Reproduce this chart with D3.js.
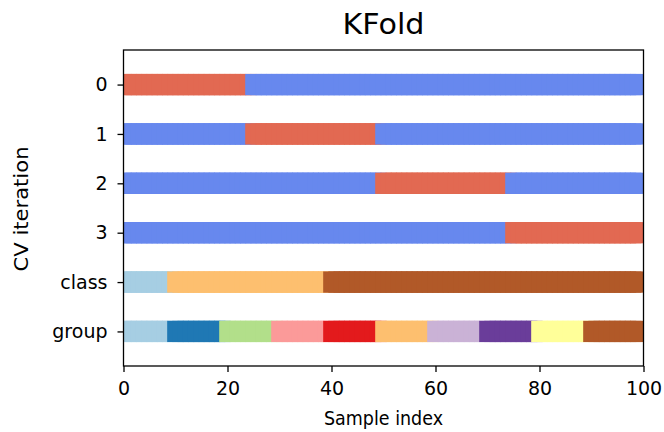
<!DOCTYPE html>
<html><head><meta charset="utf-8">
<script src="https://cdn.jsdelivr.net/npm/d3@7"></script>
<style>body{margin:0;background:#fff}svg{display:block}text{font-family:"DejaVu Sans",sans-serif;fill:#000}</style>
</head><body>
<script>
const title = "KFold";
const nSamples = 100;
const foldTestStart = [0, 25, 50, 75];
const foldTestEnd = [25, 50, 75, 100];
const classSizes = [10, 30, 60];
const groupSizes = [10, 10, 10, 10, 10, 10, 10, 10, 10, 10];
const yTickLabels = ["0", "1", "2", "3", "class", "group"];
const xTicks = [0, 20, 40, 60, 80, 100];
const cvColors = ["#6788ee", "#e26952"]; // train, test
const classColors = ["#a6cee3", "#fdbf6f", "#b15928"];
const groupColors = ["#a6cee3", "#1f78b4", "#b2df8a", "#fb9a99", "#e31a1c", "#fdbf6f", "#cab2d6", "#6a3d9a", "#ffff99", "#b15928"];

const W = 664, H = 432;
const m = {left: 123.5, right: 643.5, top: 50, bottom: 366};
const svg = d3.select("body").append("svg").attr("width", W).attr("height", H);

const x = d3.scaleLinear().domain([0, 100]).range([m.left, m.right]);
const y = d3.scaleLinear().domain([-0.2, yTickLabels.length + 0.2]).range([m.top, m.bottom]);

const rows = [];
foldTestStart.forEach((s, k) => {
  const vals = d3.range(nSamples).map(i => (i >= s && i < foldTestEnd[k]) ? cvColors[1] : cvColors[0]);
  rows.push(vals);
});
function expand(sizes, colors) {
  const out = [];
  sizes.forEach((n, j) => { for (let t = 0; t < n; t++) out.push(colors[j]); });
  return out;
}
rows.push(expand(classSizes, classColors));
rows.push(expand(groupSizes, groupColors));

svg.append("clipPath").attr("id", "clip").append("rect")
  .attr("x", m.left).attr("y", m.top).attr("width", m.right - m.left).attr("height", m.bottom - m.top);

const half = 1.6;
const barH = 0.43;
const g = svg.append("g").attr("clip-path", "url(#clip)");
rows.forEach((vals, r) => {
  g.append("g").selectAll("rect").data(vals).join("rect")
    .attr("x", (d, i) => x(i - half))
    .attr("width", (d, i) => x(i + half) - x(i - half))
    .attr("y", y(r + 0.5 - barH / 2))
    .attr("height", y(r + 0.5 + barH / 2) - y(r + 0.5 - barH / 2))
    .attr("fill", d => d);
});

const xAxis = d3.axisBottom(x).tickValues(xTicks).tickSize(6).tickPadding(6).tickSizeOuter(0);
const gx = svg.append("g").attr("transform", `translate(0,${m.bottom})`).call(xAxis);
const yAxis = d3.axisLeft(y).tickValues(yTickLabels.map((d, i) => i + 0.5))
  .tickFormat((d, i) => yTickLabels[i]).tickSize(6).tickPadding(10).tickSizeOuter(0);
const gy = svg.append("g").attr("transform", `translate(${m.left},0)`).call(yAxis);
[gx, gy].forEach(a => {
  a.select(".domain").remove();
  a.selectAll("line").attr("stroke", "#000").attr("stroke-width", 1.3);
  a.selectAll("text").style("font-size", "19px").attr("fill", "#000");
});
gx.selectAll("text").attr("dy", "0.9em");
svg.append("rect").attr("x", m.left).attr("y", m.top).attr("width", m.right - m.left).attr("height", m.bottom - m.top)
  .attr("fill", "none").attr("stroke", "#000").attr("stroke-width", 1.3);

svg.append("text").attr("x", (m.left + m.right) / 2).attr("y", 34).attr("text-anchor", "middle")
  .style("font-size", "29px").attr("textLength", 82).attr("lengthAdjust", "spacingAndGlyphs").text(title);
svg.append("text").attr("x", (m.left + m.right) / 2).attr("y", 425).attr("text-anchor", "middle")
  .style("font-size", "19px").attr("textLength", 119).attr("lengthAdjust", "spacingAndGlyphs").text("Sample index");
svg.append("text").attr("transform", `translate(28,${(m.top + m.bottom) / 2 + 1}) rotate(-90)`).attr("text-anchor", "middle")
  .style("font-size", "19px").attr("textLength", 125).attr("lengthAdjust", "spacingAndGlyphs").text("CV iteration");
</script>
</body></html>
